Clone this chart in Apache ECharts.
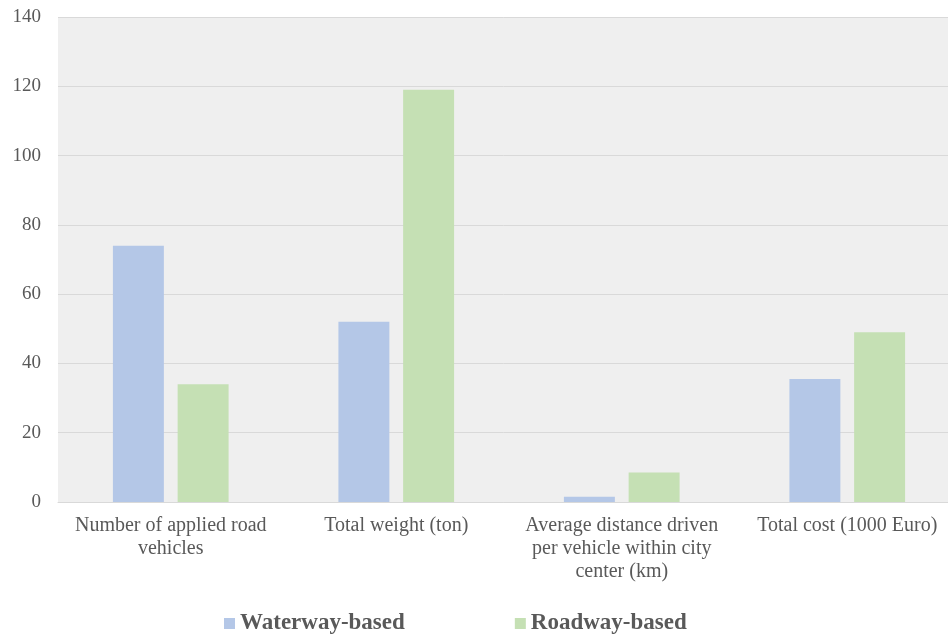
<!DOCTYPE html>
<html>
<head>
<meta charset="utf-8">
<script src="https://cdn.jsdelivr.net/npm/echarts@6/dist/echarts.min.js"></script>
<style>
  html, body { margin: 0; padding: 0; background: #ffffff; }
  #chart { width: 948px; height: 634px; }
</style>
</head>
<body>
<div id="chart"></div>
<script>
const categories = [
  'Number of applied road\nvehicles',
  'Total weight (ton)',
  'Average distance driven\nper vehicle within city\ncenter (km)',
  'Total cost (1000 Euro)'
];
const waterwayValues = [74, 52, 1.5, 35.5];
const roadwayValues = [34, 119, 8.5, 49];
const yTicks = [0, 20, 40, 60, 80, 100, 120, 140];

const textColor = '#595959';
const serif = '"Liberation Serif", "Times New Roman", serif';

const chart = echarts.init(document.getElementById('chart'), null, { renderer: 'canvas' });
chart.setOption({
  animation: false,
  backgroundColor: '#ffffff',
  grid: {
    left: 58, top: 17, bottom: 132,
    width: 902,
    outerBoundsMode: 'none',
    containLabel: false,
    show: true,
    backgroundColor: '#efefef',
    borderWidth: 0
  },
  legend: {
    top: 607,
    left: 219,
    itemWidth: 11,
    itemHeight: 11,
    itemGap: 110,
    icon: 'rect',
    textStyle: {
      fontFamily: serif,
      fontWeight: 'bold',
      fontSize: 23,
      color: textColor
    },
    data: ['Waterway-based', 'Roadway-based']
  },
  xAxis: {
    type: 'category',
    data: categories,
    axisLine: { show: true, lineStyle: { color: '#d9d9d9', width: 1 } },
    axisTick: { show: false },
    axisLabel: {
      fontFamily: serif,
      fontSize: 20,
      color: textColor,
      lineHeight: 23,
      margin: 12,
      interval: 0
    }
  },
  yAxis: {
    type: 'value',
    min: yTicks[0],
    max: yTicks[yTicks.length - 1],
    interval: 20,
    axisLine: { show: false },
    axisTick: { show: false },
    splitLine: { lineStyle: { color: '#d9d9d9', width: 1 } },
    axisLabel: {
      fontFamily: serif,
      fontSize: 19,
      color: textColor,
      margin: 17
    }
  },
  series: [
    {
      name: 'Waterway-based',
      type: 'bar',
      data: waterwayValues,
      barWidth: '22.6%',
      barGap: '27%',
      itemStyle: { color: '#b4c7e7' }
    },
    {
      name: 'Roadway-based',
      type: 'bar',
      data: roadwayValues,
      barWidth: '22.6%',
      barGap: '27%',
      itemStyle: { color: '#c5e0b4' }
    }
  ]
});
</script>
</body>
</html>
